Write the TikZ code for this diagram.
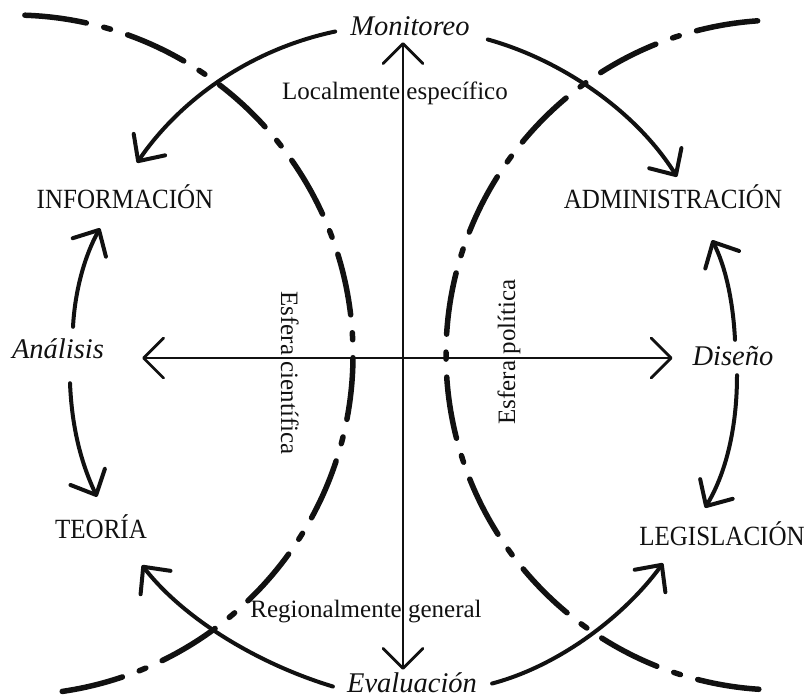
\documentclass[tikz,border=0pt]{standalone}
\usepackage{fontspec}
\setmainfont{Liberation Serif}
\newfontfamily\narrowserif[FakeStretch=0.9]{Liberation Serif}
\usepackage{tikz}
\usetikzlibrary{positioning,arrows.meta,calc}
\definecolor{ink}{HTML}{111111}
\tikzset{
    capword/.style={
        font=\narrowserif\fontsize{27.8}{33}\selectfont, text=ink,
        text height=17pt, text depth=0pt, inner sep=3pt, anchor=base
    },
    slantword/.style={
        font=\fontsize{28.5}{34}\selectfont\itshape, text=ink,
        text height=19pt, text depth=0pt, inner sep=3pt, anchor=base
    },
    smallword/.style={
        font=\fontsize{25}{30}\selectfont, text=ink,
        text height=17pt, text depth=5pt, inner sep=0pt, anchor=base
    },
    axisarrow/.style={-{Straight Barb[length=20pt, width=40pt, round]}, line width=2.8pt, color=ink},
    cyclearrow/.style={-{Straight Barb[length=20pt, width=38pt, round]}, line width=4pt, line cap=round, color=ink},
    spherearc/.style={line width=5.5pt, line cap=round, color=ink, dash pattern=on 62pt off 18pt on 7pt off 18pt},
}
\begin{document}
\begin{tikzpicture}[x=1pt, y=-1pt]
    \useasboundingbox (0,0) rectangle (810,699);
    \node[slantword] (mon) at (410,35) {Monitoreo};
    \node[capword] (inf) at (125,208) {INFORMACIÓN};
    \node[capword] (adm) at (673,208) {ADMINISTRACIÓN};
    \node[slantword] (ana) at (58,358) {Análisis};
    \node[slantword] (dis) at (733,365) {Diseño};
    \node[capword] (teo) at (101,538) {TEORÍA};
    \node[capword] (leg) at (722,545) {LEGISLACIÓN};
    \node[slantword] (eva) at (412,692) {Evaluación};
    \node[smallword] (loc) at (395,99) {Localmente específico};
    \node[smallword] (reg) at (366,617) {Regionalmente general};
    \node[smallword, rotate=-90] (cie) at (281,373) {Esfera científica};
    \node[smallword, rotate=90] (pol) at (515,352) {Esfera política};
    \draw[spherearc] (13,355) ++(-88:340) arc[start angle=-88, end angle=84, radius=340];
    \draw[spherearc] (781,355) ++(266:335) arc[start angle=266, end angle=93, radius=335];
    \coordinate (o) at (403,358);
    \draw[axisarrow, shorten >=4pt] (o) -- (o |- mon.south);
    \draw[axisarrow] (o) -- (o |- eva.north);
    \draw[axisarrow, shorten >=35pt] (o) -- (o -| ana.east);
    \draw[axisarrow, shorten >=17pt] (o) -- (o -| dis.west);
    \draw[cyclearrow] ($(mon.west)+(-12,6)$) .. controls +(-85,18) and +(43,-63) .. ($(inf.north)+(12,-25)$);
    \draw[cyclearrow] ($(mon.east)+(15,14)$) .. controls +(72,20) and +(-42,-67) .. ($(adm.north)+(4,-11)$);
    \draw[cyclearrow] ($(ana.north)+(15,-9)$) .. controls +(2,-37) and +(-15,27) .. ($(inf.south)+(-25,17)$);
    \draw[cyclearrow] ($(ana.south)+(12,22)$) .. controls +(2,47) and +(-15,-32) .. ($(teo.north)+(-4,-21)$);
    \draw[cyclearrow] ($(dis.north)+(2,-3)$) .. controls +(-2,-40) and +(13,25) .. ($(adm.south)+(39,29)$);
    \draw[cyclearrow] ($(dis.south)+(4,7)$) .. controls +(0,55) and +(20,-33) .. ($(leg.north)+(-17,-17)$);
    \draw[cyclearrow] ($(eva.west)+(-11,4)$) .. controls +(-73,-22) and +(43,55) .. ($(teo.south)+(41,24)$);
    \draw[cyclearrow] ($(eva.east)+(12,1)$) .. controls +(68,-18) and +(-38,52) .. ($(leg.south)+(-59,15)$);
\end{tikzpicture}
\end{document}
